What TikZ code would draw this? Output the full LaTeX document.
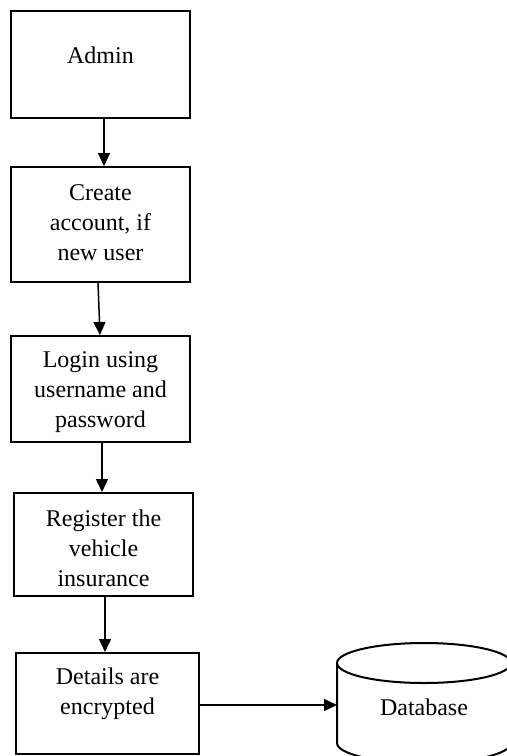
\documentclass[tikz,border=0pt]{standalone}
\usepackage{fontspec}
\setmainfont{Liberation Serif}
\usetikzlibrary{arrows.meta}
\begin{document}
\begin{tikzpicture}[x=0.5pt,y=-0.5pt,
  stepbox/.style={draw=black, line width=1pt, rectangle, inner sep=0pt},
  boxtext/.style={anchor=north, inner sep=0pt, align=center,
    font=\fontsize{12pt}{15pt}\selectfont},
  arr/.style={draw=black, line width=0.75pt, -{Triangle[length=6.5pt,width=6pt]}}]
\useasboundingbox (0,0) rectangle (507,756);
\clip (0,0) rectangle (507,756);

% process boxes
\node[stepbox, minimum width=89.5pt, minimum height=53.5pt] (admin) at (100.5,64.5) {};
\node[stepbox, minimum width=89.5pt, minimum height=57.5pt] (create) at (100.5,224.5) {};
\node[stepbox, minimum width=89.5pt, minimum height=53pt] (login) at (100.5,389) {};
\node[stepbox, minimum width=89.5pt, minimum height=51.5pt] (register) at (103.5,544.5) {};
\node[stepbox, minimum width=91.5pt, minimum height=50.5pt] (details) at (107.5,703.5) {};

% box labels
\node[boxtext] (admintxt) at ([yshift=-18pt]admin.north) {Admin};
\node[boxtext] (createtxt) at ([yshift=-9pt]create.north) {Create\\account, if\\new user};
\node[boxtext] (logintxt) at ([yshift=-8pt]login.north) {Login using\\username and\\password};
\node[boxtext] (registertxt) at ([yshift=-8.5pt]register.north) {Register the\\vehicle\\insurance};
\node[boxtext] (detailstxt) at ([yshift=-7.5pt]details.north) {Details are\\encrypted};

% database cylinder
\draw[line width=1pt] (424,663) ellipse [x radius=87, y radius=20];
\draw[line width=1pt] (337,663) -- (337,743) arc[start angle=180, end angle=0, x radius=87, y radius=20] -- (511,663);
\coordinate (dbleft) at (337,705);
\node[inner sep=0pt, font=\fontsize{12pt}{15pt}\selectfont] (db) at (424,707) {Database};

% flow connectors
\draw[arr] ([xshift=1.75pt]admin.south) -- ([xshift=1.75pt]create.north);
\draw[arr] ([xshift=-1.25pt]create.south) -- ([xshift=-0.25pt]login.north);
\draw[arr] ([xshift=0.75pt]login.south) -- ([xshift=-0.75pt]register.north);
\draw[arr] ([xshift=0.75pt]register.south) -- ([xshift=-1.25pt]details.north);
\draw[arr] ([yshift=-0.75pt]details.east) -- (dbleft);
\end{tikzpicture}
\end{document}
